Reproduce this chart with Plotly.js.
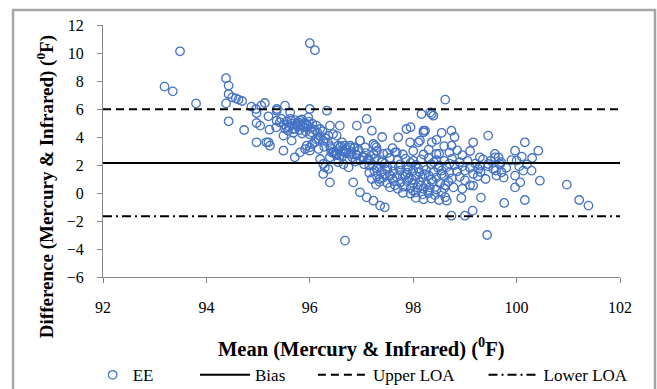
<!DOCTYPE html>
<html>
<head>
<meta charset="utf-8">
<script src="https://cdn.plot.ly/plotly-3.0.1.min.js"></script>
<style>html,body{margin:0;padding:0;background:#fff;}#chart{width:657px;height:389px;}</style>
</head>
<body>
<div id="chart"></div>
<script>
// Mean of the two readings (°F)
var meanTemp = [
  93.19,93.35,93.49,93.80,94.38,94.43,94.43,94.50,94.57,94.62,94.69,94.38,94.43,94.73,94.87,94.96,95.06,95.13,94.97,95.20,94.97,95.36,95.36,95.35,95.22,96.00,96.10,
  95.04,94.97,95.20,95.23,95.36,95.52,95.42,95.49,95.49,95.62,95.65,95.55,95.68,95.75,95.81,95.87,95.94,96.00,95.97,96.04,96.13,96.20,96.33,96.39,96.36,96.26,96.17,96.00,95.91,95.81,95.71,96.20,96.29,96.26,96.39,
  96.58,96.52,96.55,96.49,96.58,96.68,96.78,96.91,96.97,97.10,97.20,97.07,97.26,97.23,97.16,96.75,96.84,96.97,97.10,97.23,97.36,97.45,96.68,97.68,97.87,97.94,98.10,98.20,98.16,98.36,98.36,98.45,98.62,
  96.10,96.17,96.36,96.26,96.46,96.39,95.16,95.94,96.00,95.65,
  98.33,98.39,98.23,98.74,98.13,98.74,99.16,99.45,100.16,100.42,99.97,99.58,99.65,99.68,99.58,99.29,99.29,100.00,100.13,100.29,99.97,100.45,100.07,99.97,100.97,100.16,99.76,99.31,99.15,99.00,98.74,98.65,101.21,101.39,99.43,99.16,98.93,98.78,99.61,99.55,99.71,99.45,99.26,99.16,
  96.45,97.23,97.29,97.42,97.65,97.71,98.20,96.62,96.68,96.58,96.78,96.87,96.97,96.42,96.52,96.65,96.78,96.91,97.04,97.13,
  96.45,96.52,96.60,96.62,96.70,96.72,96.80,96.82,96.88,96.90,96.95,96.98,97.02,97.05,97.08,97.12,97.15,97.18,96.60,96.70,96.85,96.40,96.55,96.65,
  97.25,97.40,97.55,97.70,97.85,98.00,98.15,98.30,98.45,98.60,98.75,98.90,
  97.22,97.32,97.45,97.60,97.75,97.90,98.05,98.20,98.35,98.50,98.65,98.80,98.95,
  97.25,97.38,97.50,97.62,97.75,97.88,98.00,98.12,98.25,98.40,98.55,98.70,98.85,99.00,
  97.30,97.42,97.55,97.68,97.80,97.92,98.05,98.18,98.30,98.45,98.60,98.75,98.90,
  97.35,97.50,97.62,97.75,97.88,98.00,98.12,98.25,98.38,98.52,98.68,
  97.55,97.70,97.82,97.95,98.08,98.20,98.32,98.45,98.60,
  97.80,97.95,98.05,98.18,98.30,98.42,98.55,
  98.05,98.20,98.35,98.50,98.62,
  97.30,97.45,97.60,97.72,97.85,97.98,98.10,98.22,98.35,98.48,98.62,97.40,97.65,98.00,98.28,97.95,98.40,97.50,98.15,98.70,97.35,97.90,98.55,97.20,97.28,97.15,
  99.05,99.10,99.20,99.30,99.35,99.45,99.50,99.60,99.70,99.80,99.90,100.05,100.20,100.30,100.10,99.25,99.00,99.10,98.95,99.40,99.75,
  97.30,97.50,97.60,97.80,98.00,98.20,98.30,98.50,98.60,98.70,98.85,98.95,99.10,97.40,98.55,97.95,98.45,98.80,
  95.50,95.55,95.60,95.62,95.65,95.70,95.72,95.75,95.78,95.80,95.82,95.85,95.88,95.90,95.92,95.95,95.98,96.02,96.05,96.10,95.58,95.68,95.85,96.00,95.45,95.52,96.15,96.20,96.25,96.30,96.35,96.12,96.05,96.40,96.28
];
// Difference between the two readings (°F)
var diffTemp = [
  7.60,7.26,10.12,6.40,8.20,7.67,7.07,6.83,6.76,6.67,6.57,6.40,5.12,4.50,6.17,6.00,6.24,6.43,5.71,5.48,5.00,6.00,5.16,4.69,4.52,10.70,10.20,
  4.81,3.62,3.62,3.38,5.88,6.24,5.05,4.10,3.02,5.76,5.17,4.69,4.57,4.93,5.17,4.81,4.93,6.00,5.40,4.33,4.81,4.57,5.88,4.81,4.10,3.74,3.14,3.26,3.14,2.90,2.55,2.43,1.83,1.36,0.76,
  4.81,4.10,3.38,2.79,2.67,2.90,3.26,4.81,3.74,5.29,4.45,3.26,3.38,2.79,2.31,1.83,0.76,0.05,-0.31,-0.55,-0.90,-1.02,-3.40,2.90,4.57,3.62,3.62,4.45,5.64,5.64,3.62,2.79,6.67,
  3.62,3.86,1.71,2.07,2.90,2.55,3.62,3.38,3.02,3.74,
  5.76,5.52,4.45,4.45,3.74,3.38,3.62,4.10,3.62,3.02,3.02,2.79,2.55,2.07,2.55,2.55,1.95,2.31,1.60,1.60,1.24,0.88,0.76,0.40,0.60,-0.50,-0.71,-0.33,-1.26,-1.62,-1.62,-0.55,-0.50,-0.90,-3.00,0.52,-0.36,0.40,1.24,1.71,1.48,2.07,1.71,1.36,
  4.21,3.50,3.26,2.79,2.90,3.98,4.33,3.62,3.38,3.26,3.38,3.26,3.74,2.90,2.79,3.02,2.79,2.67,2.55,2.43,
  2.95,2.70,3.00,2.60,2.85,2.40,2.95,2.55,2.25,2.75,3.05,2.35,2.60,2.05,2.85,2.40,1.95,2.65,3.35,3.10,3.20,3.20,2.20,2.05,
  2.45,2.35,2.50,2.40,2.45,2.30,2.40,2.50,2.35,2.30,2.45,2.20,
  2.00,1.90,2.10,1.95,2.05,1.90,2.00,1.85,2.05,1.95,1.85,2.00,1.90,
  1.60,1.50,1.65,1.55,1.60,1.45,1.60,1.50,1.65,1.50,1.60,1.45,1.55,1.60,
  1.20,1.10,1.25,1.15,1.20,1.05,1.20,1.10,1.25,1.10,1.20,1.05,1.15,
  0.80,0.70,0.85,0.75,0.85,0.70,0.80,0.65,0.80,0.70,0.80,
  0.40,0.30,0.45,0.35,0.40,0.30,0.40,0.25,0.35,
  0.00,-0.05,0.05,-0.10,0.00,-0.15,0.05,
  -0.35,-0.45,-0.40,-0.50,-0.30,
  1.75,1.35,1.00,1.85,1.30,0.95,1.75,1.35,0.95,1.80,0.55,2.20,0.55,0.15,0.20,2.15,2.20,1.85,0.55,2.10,1.00,1.70,1.35,1.00,0.60,1.45,
  2.30,1.80,2.10,1.50,2.40,1.90,2.30,1.60,2.20,1.80,2.35,1.90,2.05,2.50,2.60,1.20,0.90,0.55,0.30,1.00,1.10,
  3.00,2.85,3.20,2.75,3.00,2.75,3.10,2.80,3.35,2.90,3.05,2.70,3.00,4.00,4.30,4.70,3.80,4.00,
  4.90,5.10,4.75,5.30,4.95,4.60,5.20,4.80,5.05,4.50,4.90,5.25,4.70,5.00,4.40,4.85,5.10,4.65,4.95,4.50,4.45,4.30,4.25,4.20,5.30,4.60,4.30,4.05,4.40,3.90,3.60,3.85,3.50,3.35,3.30
];
var xRange = [92, 102];
var yRange = [-6, 12];
var bias = 2.15;
var upperLOA = 5.98;
var lowerLOA = -1.66;
var seriesNames = ['EE', 'Bias', 'Upper LOA', 'Lower LOA'];

var serif = 'Times New Roman, Liberation Serif, serif';
var traces = [
  {x: meanTemp, y: diffTemp, type: 'scatter', mode: 'markers', name: seriesNames[0], legend: 'legend',
   marker: {symbol: 'circle-open', size: 8.5, color: '#4472C4', line: {width: 1.3, color: '#4472C4'}}},
  {x: xRange, y: [bias, bias], type: 'scatter', mode: 'lines', name: seriesNames[1], legend: 'legend2',
   line: {color: '#000', width: 2}},
  {x: xRange, y: [upperLOA, upperLOA], type: 'scatter', mode: 'lines', name: seriesNames[2], legend: 'legend3',
   line: {color: '#000', width: 2, dash: '8px,5px'}},
  {x: xRange, y: [lowerLOA, lowerLOA], type: 'scatter', mode: 'lines', name: seriesNames[3], legend: 'legend4',
   line: {color: '#000', width: 2, dash: '9px,4px,2px,4px'}}
];
function leg(x, w) {
  return {x: x, y: -0.39, xanchor: 'left', yanchor: 'middle', orientation: 'h', bgcolor: 'rgba(0,0,0,0)',
          font: {family: serif, size: 17, color: '#000'}, itemwidth: w};
}
var axisCommon = {showline: true, linecolor: '#868686', linewidth: 1, ticks: 'outside', ticklen: 5, tickcolor: '#868686',
  showgrid: false, zeroline: false, tickfont: {family: serif, size: 16, color: '#000'}};
var layout = {
  width: 657, height: 389,
  margin: {l: 103, r: 37, t: 25, b: 112, autoexpand: false},
  font: {family: serif},
  paper_bgcolor: '#fff', plot_bgcolor: '#fff',
  showlegend: true,
  xaxis: Object.assign({range: xRange, tick0: 92, dtick: 2, ticklabelstandoff: 11}, axisCommon),
  yaxis: Object.assign({range: yRange, tick0: -6, dtick: 2, ticklabelstandoff: 10}, axisCommon),
  legend: leg(-0.02, 30), legend2: leg(0.178, 50), legend3: leg(0.406, 50), legend4: leg(0.736, 50),
  annotations: [
    {xref: 'paper', yref: 'paper', x: 0.5, y: -0.278, xanchor: 'center', yanchor: 'middle', showarrow: false,
     text: '<b>Mean (Mercury &amp; Infrared) (<sup>0</sup>F)</b>', font: {family: serif, size: 20.5, color: '#000'}},
    {xref: 'paper', yref: 'paper', x: -0.112, y: 0.357, xanchor: 'center', yanchor: 'middle', showarrow: false, textangle: -90,
     text: '<b>Difference (Mercury &amp; Infrared) (<sup>0</sup>F)</b>', font: {family: serif, size: 19, color: '#000'}}
  ],
  shapes: [
    {type: 'rect', xref: 'paper', yref: 'paper', x0: -0.174, x1: 1.0677, y0: -0.7, y1: 1.0595,
     line: {color: '#a6a6a6', width: 2.5}, fillcolor: 'rgba(0,0,0,0)', layer: 'below'}
  ]
};
Plotly.newPlot('chart', traces, layout, {displayModeBar: false, staticPlot: true});
</script>
</body>
</html>
